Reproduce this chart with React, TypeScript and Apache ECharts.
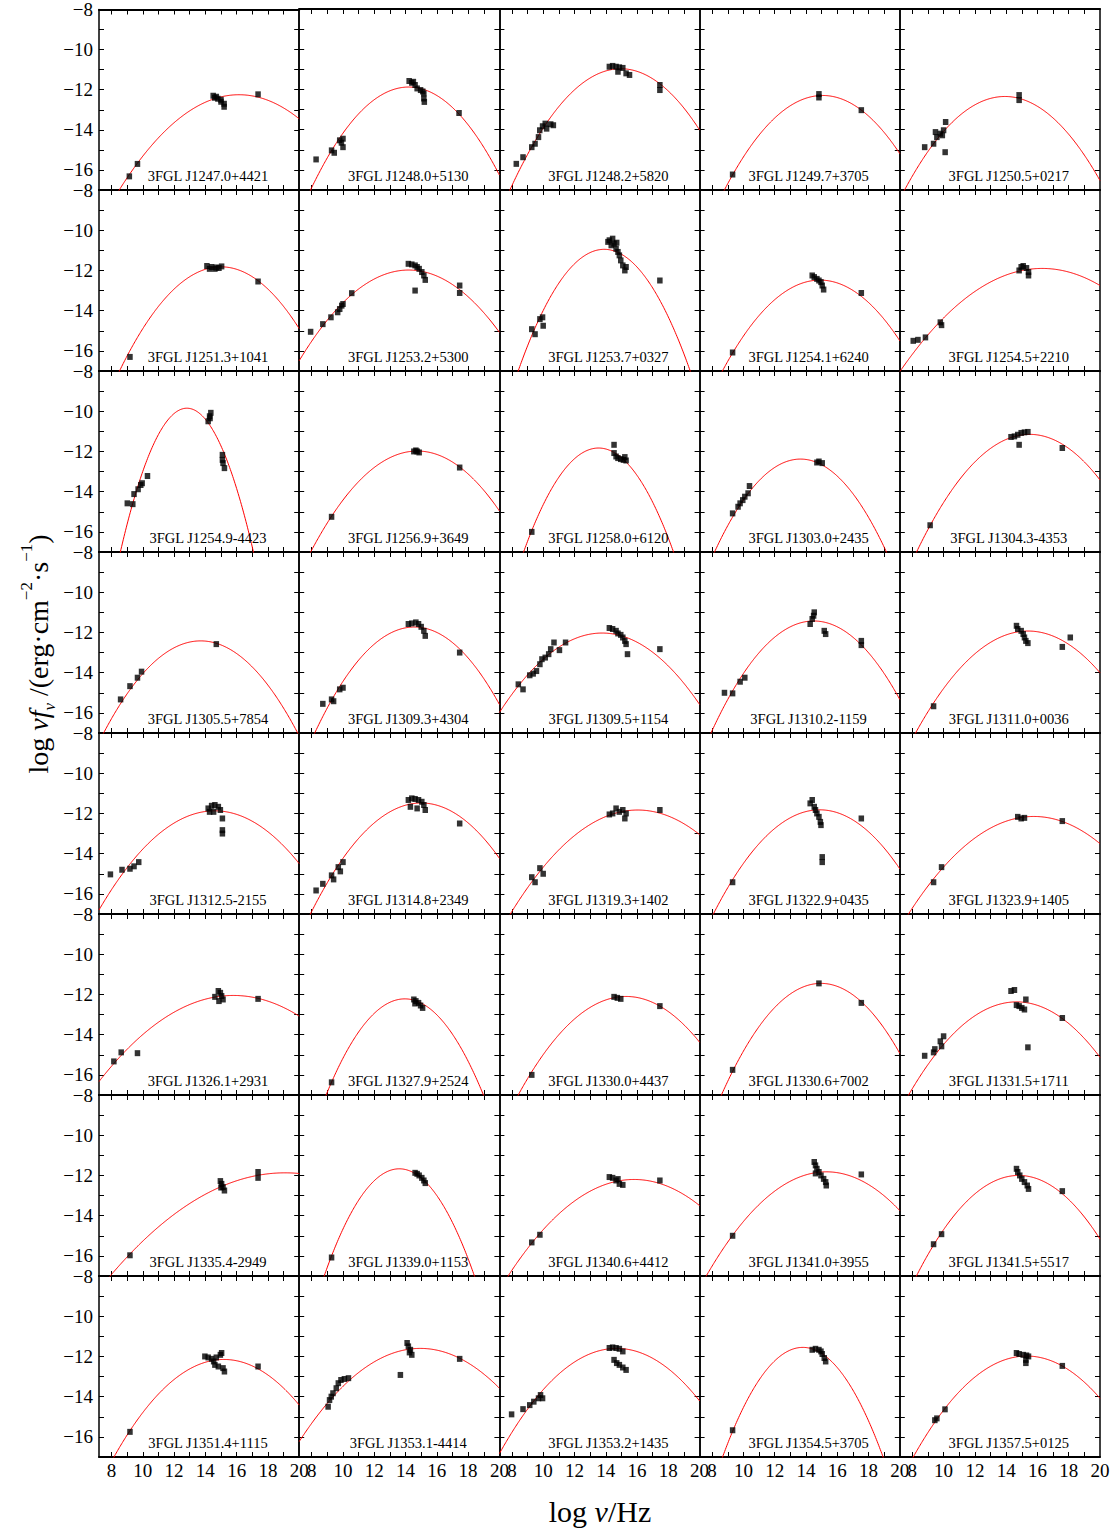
import React, { useEffect, useRef } from "react";
import * as echarts from "echarts";

const FONT = "'Liberation Serif', 'Times New Roman', Times, serif";

const SOURCES = [
  "3FGL J1247.0+4421", "3FGL J1248.0+5130", "3FGL J1248.2+5820", "3FGL J1249.7+3705", "3FGL J1250.5+0217",
  "3FGL J1251.3+1041", "3FGL J1253.2+5300", "3FGL J1253.7+0327", "3FGL J1254.1+6240", "3FGL J1254.5+2210",
  "3FGL J1254.9-4423", "3FGL J1256.9+3649", "3FGL J1258.0+6120", "3FGL J1303.0+2435", "3FGL J1304.3-4353",
  "3FGL J1305.5+7854", "3FGL J1309.3+4304", "3FGL J1309.5+1154", "3FGL J1310.2-1159", "3FGL J1311.0+0036",
  "3FGL J1312.5-2155", "3FGL J1314.8+2349", "3FGL J1319.3+1402", "3FGL J1322.9+0435", "3FGL J1323.9+1405",
  "3FGL J1326.1+2931", "3FGL J1327.9+2524", "3FGL J1330.0+4437", "3FGL J1330.6+7002", "3FGL J1331.5+1711",
  "3FGL J1335.4-2949", "3FGL J1339.0+1153", "3FGL J1340.6+4412", "3FGL J1341.0+3955", "3FGL J1341.5+5517",
  "3FGL J1351.4+1115", "3FGL J1353.1-4414", "3FGL J1353.2+1435", "3FGL J1354.5+3705", "3FGL J1357.5+0125",
];

// log-parabola fit parameters: peak frequency, peak flux, curvature
const PEAK_X = [
  16.15, 14.2, 14.96, 15.07, 13.92,
  15.0, 14.2, 13.9, 14.9, 16.3,
  12.82, 14.75, 13.54, 13.65, 15.5,
  13.7, 14.56, 13.77, 14.5, 15.4,
  14.6, 15.0, 16.04, 14.88, 15.77,
  15.79, 13.95, 15.3, 14.96, 14.67,
  19.1, 13.6, 15.81, 15.31, 14.8,
  15.19, 14.94, 14.7, 13.8, 15.31,
];
const PEAK_Y = [
  -12.25, -11.88, -10.97, -12.3, -12.35,
  -11.82, -11.98, -10.95, -12.48, -11.9,
  -9.85, -11.98, -11.83, -12.38, -11.15,
  -12.42, -11.73, -12.03, -11.43, -11.93,
  -11.87, -11.48, -11.83, -11.82, -12.15,
  -12.05, -12.22, -12.1, -11.45, -12.37,
  -11.87, -11.67, -12.2, -11.82, -12.0,
  -12.15, -11.6, -11.6, -11.55, -11.98,
];
const CURVATURE = [
  0.081, 0.13, 0.12, 0.119, 0.113,
  0.123, 0.092, 0.2, 0.116, 0.062,
  0.395, 0.108, 0.225, 0.153, 0.112,
  0.119, 0.13, 0.0915, 0.129, 0.098,
  0.09, 0.11, 0.078, 0.112, 0.0755,
  0.058, 0.189, 0.103, 0.137, 0.097,
  0.041, 0.231, 0.074, 0.0877, 0.117,
  0.098, 0.0773, 0.093, 0.207, 0.0955,
];

const POINTS_ROW1 = [
  [[9.14,-16.32],[9.66,-15.7],[14.5,-12.3],[14.6,-12.4],[14.7,-12.35],[14.8,-12.45],[15.0,-12.5],[15.0,-12.6],[15.2,-12.7],[15.2,-12.85],[17.37,-12.23]],
  [[8.28,-15.48],[9.27,-15.03],[9.44,-15.15],[9.79,-14.53],[10.0,-14.45],[10.0,-14.87],[9.9,-14.65],[14.23,-11.58],[14.4,-11.67],[14.5,-11.62],[14.61,-11.78],[14.74,-11.95],[14.96,-12.03],[15.17,-12.2],[15.17,-12.45],[15.2,-12.62],[15.1,-12.1],[17.42,-13.17]],
  [[8.28,-15.7],[8.71,-15.37],[9.27,-14.87],[9.48,-14.7],[9.7,-14.37],[9.78,-14.03],[9.96,-13.83],[10.13,-13.7],[10.22,-13.95],[10.48,-13.73],[10.65,-13.78],[14.23,-10.87],[14.44,-10.83],[14.66,-10.87],[14.87,-10.9],[15.09,-10.93],[14.78,-11.12],[15.3,-11.2],[15.52,-11.28],[17.46,-11.78],[17.46,-12.03]],
  [[9.31,-16.23],[14.83,-12.23],[14.83,-12.4],[17.54,-13.03]],
  [[8.79,-14.87],[9.36,-14.7],[9.57,-14.37],[9.48,-14.12],[9.79,-14.2],[9.92,-14.28],[10.0,-14.03],[10.13,-13.62],[10.1,-15.12],[14.83,-12.28],[14.83,-12.53]],
];
const POINTS_ROW2 = [
  [[9.18,-16.3],[14.1,-11.78],[14.27,-11.92],[14.4,-11.83],[14.61,-11.92],[14.87,-11.88],[15.04,-11.8],[14.7,-11.85],[17.37,-12.55]],
  [[7.93,-15.05],[8.71,-14.67],[9.23,-14.33],[9.66,-14.08],[9.79,-13.92],[9.92,-13.75],[10.0,-13.67],[10.56,-13.13],[14.18,-11.67],[14.4,-11.7],[14.61,-11.75],[14.74,-11.83],[14.87,-11.92],[15.04,-12.08],[15.17,-12.25],[15.26,-12.47],[14.61,-13.0],[17.46,-12.75],[17.46,-13.12]],
  [[9.27,-14.92],[9.48,-15.17],[9.79,-14.42],[9.96,-14.33],[10.0,-14.75],[14.14,-10.58],[14.23,-10.5],[14.35,-10.75],[14.44,-10.42],[14.53,-10.67],[14.7,-10.62],[14.66,-10.92],[14.78,-11.08],[14.87,-11.25],[14.96,-11.5],[15.09,-11.75],[15.22,-12.0],[15.3,-11.83],[17.46,-12.5]],
  [[9.31,-16.08],[14.4,-12.25],[14.53,-12.33],[14.7,-12.42],[14.83,-12.5],[14.96,-12.58],[15.04,-12.75],[15.13,-12.95],[17.54,-13.12]],
  [[8.06,-15.5],[8.36,-15.45],[8.84,-15.33],[9.87,-14.72],[9.79,-14.58],[14.83,-12.0],[14.96,-11.83],[15.09,-11.78],[15.3,-11.88],[15.43,-12.08],[15.43,-12.25]],
];
const POINTS_ROW3 = [
  [[9.01,-14.58],[9.36,-14.62],[9.44,-14.12],[9.7,-13.88],[9.87,-13.67],[9.96,-13.58],[10.3,-13.22],[14.18,-10.5],[14.27,-10.25],[14.35,-10.08],[14.3,-10.35],[15.09,-12.17],[15.09,-12.42],[15.13,-12.58],[15.22,-12.83]],
  [[9.27,-15.25],[14.53,-12.0],[14.74,-12.0],[14.87,-12.05],[14.66,-11.95],[17.46,-12.8]],
  [[9.27,-16.0],[14.53,-11.67],[14.53,-12.08],[14.66,-12.25],[14.78,-12.33],[14.96,-12.38],[15.13,-12.42],[15.3,-12.45],[15.22,-12.28]],
  [[9.31,-15.08],[9.66,-14.75],[9.79,-14.58],[9.96,-14.42],[10.09,-14.25],[10.3,-14.08],[10.39,-13.72],[14.83,-12.5],[15.04,-12.58],[14.7,-12.55]],
  [[9.14,-15.67],[14.31,-11.28],[14.53,-11.25],[14.74,-11.17],[14.96,-11.08],[15.17,-11.05],[15.39,-11.03],[14.83,-11.67],[17.59,-11.83]],
];
const POINTS_ROW4 = [
  [[8.58,-15.33],[9.18,-14.67],[9.66,-14.25],[9.92,-13.95],[14.7,-12.58]],
  [[8.71,-15.55],[9.27,-15.33],[9.4,-15.42],[9.79,-14.83],[10.0,-14.75],[14.18,-11.58],[14.4,-11.55],[14.66,-11.5],[14.83,-11.58],[15.0,-11.72],[15.17,-11.92],[15.26,-12.17],[17.46,-13.0]],
  [[8.41,-14.58],[8.71,-14.83],[9.14,-14.13],[9.36,-14.05],[9.57,-13.92],[9.79,-13.58],[9.92,-13.33],[10.13,-13.25],[10.35,-13.08],[10.48,-12.83],[10.69,-12.5],[11.04,-12.88],[11.43,-12.5],[14.23,-11.78],[14.44,-11.83],[14.66,-11.92],[14.78,-12.05],[14.96,-12.12],[15.09,-12.25],[15.22,-12.42],[15.3,-12.58],[15.39,-13.08],[17.46,-12.83]],
  [[8.79,-15.0],[9.31,-15.03],[9.79,-14.45],[10.09,-14.25],[14.27,-11.58],[14.4,-11.33],[14.49,-11.17],[14.53,-11.0],[15.17,-11.92],[15.26,-12.08],[17.54,-12.42],[17.54,-12.63]],
  [[9.36,-15.67],[14.66,-11.67],[14.74,-11.83],[14.96,-11.92],[15.09,-12.08],[15.17,-12.25],[15.26,-12.42],[15.39,-12.53],[17.59,-12.72],[18.1,-12.25]],
];
const POINTS_ROW5 = [
  [[7.93,-15.03],[8.67,-14.8],[9.18,-14.75],[9.44,-14.63],[9.74,-14.42],[14.18,-11.75],[14.4,-11.62],[14.61,-11.58],[14.83,-11.67],[14.53,-11.92],[14.27,-11.92],[14.96,-11.83],[15.09,-12.25],[15.09,-12.83],[15.09,-13.0]],
  [[8.28,-15.83],[8.71,-15.5],[9.27,-15.08],[9.4,-15.28],[9.7,-14.67],[9.83,-14.88],[10.0,-14.42],[14.18,-11.33],[14.4,-11.25],[14.61,-11.28],[14.83,-11.33],[15.04,-11.42],[15.17,-11.58],[15.26,-11.83],[14.31,-11.67],[14.74,-11.75],[17.46,-12.5]],
  [[9.27,-15.17],[9.48,-15.42],[9.79,-14.72],[10.0,-15.0],[14.23,-12.05],[14.44,-12.0],[14.66,-11.75],[14.87,-11.92],[15.09,-11.83],[15.22,-12.25],[15.3,-12.0],[17.46,-11.83]],
  [[9.31,-15.42],[14.27,-11.5],[14.4,-11.33],[14.53,-11.67],[14.61,-11.83],[14.7,-12.0],[14.83,-12.17],[14.92,-12.42],[14.96,-12.58],[15.04,-14.17],[15.04,-14.42],[17.54,-12.25]],
  [[9.36,-15.42],[9.87,-14.67],[14.74,-12.17],[14.96,-12.25],[15.17,-12.22],[17.59,-12.38]],
];
const POINTS_ROW6 = [
  [[8.15,-15.33],[8.62,-14.88],[9.66,-14.92],[14.61,-12.12],[14.83,-11.83],[14.96,-11.92],[15.04,-12.08],[15.13,-12.25],[14.87,-12.33],[17.37,-12.22]],
  [[9.27,-16.37],[14.53,-12.25],[14.66,-12.33],[14.83,-12.42],[14.96,-12.55],[15.09,-12.67],[14.6,-12.45]],
  [[9.27,-16.0],[14.53,-12.12],[14.74,-12.17],[14.96,-12.22],[17.46,-12.58]],
  [[9.31,-15.75],[14.83,-11.45],[17.54,-12.42]],
  [[8.79,-15.05],[9.36,-14.88],[9.44,-14.72],[9.79,-14.33],[9.87,-14.58],[10.0,-14.08],[14.31,-11.83],[14.53,-11.78],[14.66,-12.53],[14.83,-12.58],[15.0,-12.67],[15.17,-12.75],[15.26,-12.25],[15.39,-14.63],[17.59,-13.17]],
];
const POINTS_ROW7 = [
  [[9.18,-15.97],[14.96,-12.28],[15.04,-12.42],[15.13,-12.58],[15.22,-12.75],[15.0,-12.6],[17.37,-11.83],[17.37,-12.12]],
  [[9.27,-16.08],[14.61,-11.87],[14.74,-11.92],[14.87,-12.0],[15.04,-12.12],[15.17,-12.25],[15.26,-12.38]],
  [[9.27,-15.33],[9.79,-14.95],[14.23,-12.08],[14.44,-12.12],[14.66,-12.25],[14.87,-12.42],[15.09,-12.47],[14.78,-12.18],[17.46,-12.25]],
  [[9.31,-15.0],[14.53,-11.33],[14.61,-11.5],[14.7,-11.67],[14.83,-11.83],[14.96,-12.0],[15.13,-12.17],[15.26,-12.33],[15.3,-12.5],[14.61,-11.9],[17.54,-11.95]],
  [[9.36,-15.42],[9.87,-14.92],[14.66,-11.67],[14.74,-11.83],[14.87,-12.0],[15.0,-12.17],[15.17,-12.33],[15.35,-12.5],[15.43,-12.67],[17.59,-12.78]],
];
const POINTS_ROW8 = [
  [[9.18,-15.75],[13.97,-12.0],[14.18,-12.05],[14.4,-12.12],[14.53,-12.25],[14.61,-12.42],[14.83,-12.5],[14.96,-11.92],[15.04,-11.83],[15.13,-12.58],[15.22,-12.75],[14.7,-12.05],[17.37,-12.5]],
  [[9.05,-14.5],[9.14,-14.17],[9.36,-13.83],[9.57,-13.58],[9.7,-13.33],[9.87,-13.17],[10.09,-13.12],[10.35,-13.08],[9.25,-14.0],[13.67,-12.92],[14.1,-11.33],[14.18,-11.5],[14.31,-11.67],[14.4,-11.92],[14.25,-11.8],[17.46,-12.12]],
  [[7.98,-14.88],[8.71,-14.62],[9.14,-14.42],[9.4,-14.25],[9.7,-14.08],[9.83,-13.92],[9.96,-14.08],[14.23,-11.58],[14.44,-11.55],[14.66,-11.58],[14.87,-11.62],[15.09,-11.75],[14.53,-12.17],[14.7,-12.33],[14.87,-12.42],[15.09,-12.55],[15.3,-12.67]],
  [[9.31,-15.67],[14.4,-11.67],[14.61,-11.62],[14.83,-11.67],[14.96,-11.75],[15.04,-11.88],[15.17,-12.08],[15.26,-12.25]],
  [[9.44,-15.17],[9.57,-15.08],[10.09,-14.63],[14.66,-11.83],[14.83,-11.88],[15.09,-11.92],[15.3,-11.95],[15.43,-12.0],[15.26,-12.17],[15.26,-12.33],[17.59,-12.47]],
];

const ALL_POINTS = [
  ...POINTS_ROW1, ...POINTS_ROW2, ...POINTS_ROW3, ...POINTS_ROW4,
  ...POINTS_ROW5, ...POINTS_ROW6, ...POINTS_ROW7, ...POINTS_ROW8,
];

const X_TICKS = [8, 9, 10, 11, 12, 13, 14, 15, 16, 17, 18, 19];
const X_LABELS = [8, 10, 12, 14, 16, 18, 20];
const X_MIN = 7.2;
const X_MAX = 20;
const Y_MIN = -17;
const Y_MAX = -8;

const ROWS = 8;
const COLS = 5;
const GRID_LEFT = 99;
const GRID_TOP = 9;
const CELL_W = 200.2;
const CELL_H = 181;

function curvePoints(i: number) {
  const pts: number[][] = [];
  for (let s = 0; s <= 256; s++) {
    const x = X_MIN + ((X_MAX - X_MIN) * s) / 256;
    const d = x - PEAK_X[i];
    pts.push([x, PEAK_Y[i] - CURVATURE[i] * d * d]);
  }
  return pts;
}

function buildOption() {
  const grid: any[] = [];
  const xAxis: any[] = [];
  const yAxis: any[] = [];
  const series: any[] = [];
  const graphic: any[] = [];
  const lineStyleX = { color: "#000", width: 2 };
  const lineStyleY = { color: "#000", width: 1.5 };
  const tickStyle = { color: "#000", width: 1 };
  const labelStyle = { color: "#000", fontFamily: FONT, fontSize: 19 };

  for (let i = 0; i < ROWS * COLS; i++) {
    const r = Math.floor(i / COLS);
    const c = i % COLS;
    const left = GRID_LEFT + c * CELL_W;
    const top = GRID_TOP + r * CELL_H;
    grid.push({ left, top, width: CELL_W, height: CELL_H });
    const isBottom = r === ROWS - 1;
    const isLeft = c === 0;

    ["bottom", "top"].forEach((pos) => {
      xAxis.push({
        type: "value",
        gridIndex: i,
        min: X_MIN,
        max: X_MAX,
        position: pos,
        axisLine: { show: true, onZero: false, lineStyle: lineStyleX },
        axisTick: { show: true, inside: true, length: 5, customValues: X_TICKS, lineStyle: tickStyle },
        axisLabel: {
          show: pos === "bottom" && isBottom,
          customValues: X_LABELS,
          margin: 4,
          ...labelStyle,
        },
        splitLine: { show: false },
      });
    });
    ["left", "right"].forEach((pos) => {
      yAxis.push({
        type: "value",
        gridIndex: i,
        min: Y_MIN,
        max: Y_MAX,
        interval: 1,
        position: pos,
        axisLine: { show: true, onZero: false, lineStyle: lineStyleY },
        axisTick: { show: true, inside: true, length: 5, lineStyle: tickStyle },
        axisLabel: {
          show: pos === "left" && isLeft,
          margin: 6,
          showMinLabel: true,
          showMaxLabel: true,
          formatter: (v: number) => {
            const n = Math.round(v);
            return n % 2 === 0 ? "\u2212" + Math.abs(n) : "";
          },
          ...labelStyle,
        },
        splitLine: { show: false },
      });
    });

    series.push({
      type: "line",
      xAxisIndex: 2 * i,
      yAxisIndex: 2 * i,
      data: curvePoints(i),
      showSymbol: false,
      symbol: "none",
      clip: true,
      lineStyle: { color: "#ff0000", width: 1 },
      z: 2,
      silent: true,
    });
    series.push({
      type: "scatter",
      xAxisIndex: 2 * i,
      yAxisIndex: 2 * i,
      data: ALL_POINTS[i],
      symbol: "rect",
      symbolSize: [5.5, 6],
      itemStyle: { color: "#000" },
      z: 3,
      silent: true,
    });

    graphic.push({
      type: "text",
      x: left + 109,
      y: top + 167,
      z: 10,
      style: {
        text: SOURCES[i],
        fill: "#000",
        fontFamily: FONT,
        fontSize: 14.5,
        font: `14.5px ${FONT}`,
        align: "center",
        verticalAlign: "middle",
        textAlign: "center",
        textVerticalAlign: "middle",
      },
    });
  }

  // x-axis title
  graphic.push({
    type: "text",
    x: 600,
    y: 1511,
    z: 10,
    style: {
      text: "{n|log }{i|\u03bd}{n|/Hz}",
      align: "center",
      verticalAlign: "middle",
      textAlign: "center",
      textVerticalAlign: "middle",
      fill: "#000",
      rich: {
        n: { fontFamily: FONT, fontSize: 30, fill: "#000", lineHeight: 36 },
        i: { fontFamily: FONT, fontSize: 30, fontStyle: "italic", fill: "#000", lineHeight: 36 },
      },
    },
  });

  // y-axis title (rotated)
  graphic.push({
    type: "text",
    x: 38,
    y: 654,
    rotation: Math.PI / 2,
    z: 10,
    style: {
      text: "{n|log }{i|\u03bdf}{sub|\u03bd}{n| /(erg\u00b7cm}{sup|\u22122}{n|\u00b7s}{sup|\u22121}{n|)}",
      align: "center",
      verticalAlign: "middle",
      textAlign: "center",
      textVerticalAlign: "middle",
      fill: "#000",
      rich: {
        n: { fontFamily: FONT, fontSize: 28, fill: "#000", lineHeight: 40 },
        i: { fontFamily: FONT, fontSize: 28, fontStyle: "italic", fill: "#000", lineHeight: 40 },
        sub: { fontFamily: FONT, fontSize: 17, fontStyle: "italic", fill: "#000", lineHeight: 24, verticalAlign: "bottom" },
        sup: { fontFamily: FONT, fontSize: 17, fill: "#000", lineHeight: 24, verticalAlign: "top" },
      },
    },
  });

  return {
    animation: false,
    backgroundColor: "#fff",
    textStyle: { fontFamily: FONT },
    grid,
    xAxis,
    yAxis,
    series,
    graphic,
  };
}

export default function App() {
  const ref = useRef<HTMLDivElement>(null);
  useEffect(() => {
    document.body.style.margin = "0";
    if (!ref.current) return;
    const chart = echarts.init(ref.current, undefined, { renderer: "svg" });
    chart.setOption(buildOption() as any);
    return () => chart.dispose();
  }, []);
  return <div ref={ref} style={{ width: 1117, height: 1531, background: "#fff" }} />;
}
